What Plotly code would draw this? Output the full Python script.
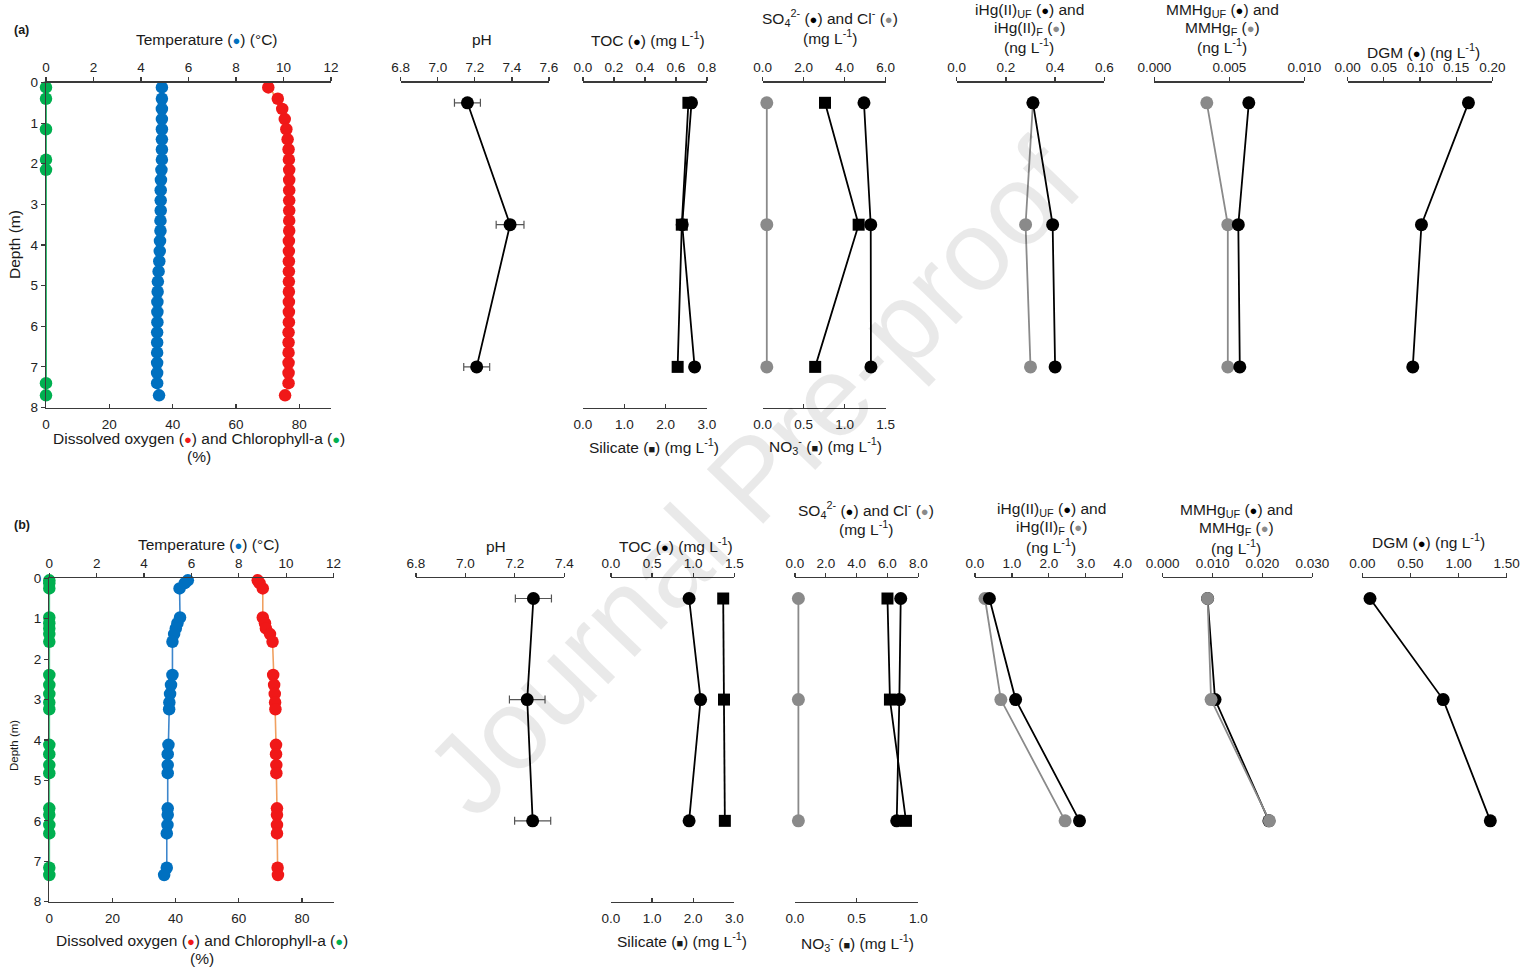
import plotly.graph_objects as go

W, H = 1530, 969
OFF = 0  # body margin is removed in the exported page


def fx(p):
    return (p - OFF) / W


def fy(p):
    return 1 - (p - OFF) / H


# ---------------- data ----------------
# (a) high-resolution profiles
depth_a = [0.12, 0.4, 0.65, 0.9, 1.15, 1.4, 1.65, 1.9, 2.15, 2.4, 2.65, 2.9, 3.15, 3.4, 3.65, 3.9,
           4.15, 4.4, 4.65, 4.9, 5.15, 5.4, 5.65, 5.9, 6.15, 6.4, 6.65, 6.9, 7.15, 7.4, 7.7]
temp_a = [4.88, 4.88, 4.88, 4.88, 4.88, 4.88, 4.88, 4.88, 4.86, 4.84, 4.83, 4.83, 4.83, 4.82, 4.82, 4.80,
          4.79, 4.77, 4.74, 4.71, 4.70, 4.69, 4.69, 4.69, 4.68, 4.68, 4.68, 4.68, 4.68, 4.68, 4.76]
do_a = [70.2, 73.2, 74.6, 75.4, 75.9, 76.3, 76.6, 76.7, 76.8, 76.8, 76.8, 76.8, 76.8, 76.8, 76.8, 76.7,
        76.7, 76.7, 76.7, 76.7, 76.7, 76.7, 76.7, 76.7, 76.6, 76.6, 76.6, 76.6, 76.6, 76.6, 75.5]
chl_depth_a = [0.12, 0.4, 1.15, 1.9, 2.15, 7.4, 7.7]
chl_a = [0.0, 0.0, 0.0, 0.0, 0.0, 0.0, 0.0]

# (b) high-resolution profiles
depth_b = [0.05, 0.12, 0.25, 0.97, 1.11, 1.24, 1.38, 1.57, 2.39, 2.64, 2.86, 3.07, 3.24,
           4.12, 4.35, 4.62, 4.82, 5.69, 5.85, 6.1, 6.31, 7.16, 7.34]
temp_b = [5.85, 5.72, 5.50, 5.52, 5.41, 5.34, 5.27, 5.20, 5.20, 5.14, 5.10, 5.07, 5.06,
          5.03, 5.00, 5.00, 5.00, 5.00, 5.00, 4.99, 4.96, 4.96, 4.85]
do_b = [66.0, 66.6, 67.6, 67.6, 68.3, 68.6, 69.9, 70.7, 70.9, 71.2, 71.4, 71.5, 71.6,
        71.8, 71.8, 71.9, 71.9, 72.1, 72.1, 72.1, 72.1, 72.3, 72.4]
chl_b = [0.0, 0.0, 0.0, 0.0, 0.0, 0.0, 0.0, 0.0, 0.0, 0.0, 0.0, 0.0, 0.0,
         0.0, 0.0, 0.0, 0.0, 0.0, 0.0, 0.0, 0.0, 0.0, 0.0]

# (a) discrete samples
samp_depth_a = [0.5, 3.5, 7.0]
ph_a = [7.16, 7.39, 7.21]
ph_err_a = [0.07, 0.075, 0.07]
toc_a = [0.70, 0.64, 0.72]
sil_a = [2.55, 2.39, 2.29]
so4_a = [4.94, 5.27, 5.28]
cl_a = [0.2, 0.2, 0.2]
no3_a = [0.76, 1.17, 0.64]
ihg_uf_a = [0.31, 0.39, 0.40]
ihg_f_a = [0.31, 0.28, 0.30]
mmhg_uf_a = [0.0063, 0.0056, 0.0057]
mmhg_f_a = [0.0035, 0.0049, 0.0049]
dgm_a = [0.167, 0.102, 0.090]

# (b) discrete samples
samp_depth_b = [0.5, 3.0, 6.0]
ph_b = [7.275, 7.25, 7.272]
ph_err_b = [0.073, 0.072, 0.073]
toc_b = [0.95, 1.09, 0.95]
sil_b = [2.73, 2.75, 2.77]
so4_b = [6.86, 6.77, 6.60]
cl_b = [0.22, 0.22, 0.22]
no3_b = [0.75, 0.77, 0.90]
ihg_uf_b = [0.39, 1.10, 2.83]
ihg_f_b = [0.27, 0.70, 2.44]
mmhg_uf_b = [0.0090, 0.0105, 0.0213]
mmhg_f_b = [0.0090, 0.0097, 0.0214]
dgm_b = [0.08, 0.84, 1.33]

# tick values / labels
depth_ticks = [0, 1, 2, 3, 4, 5, 6, 7, 8]
temp_ticks = [0, 2, 4, 6, 8, 10, 12]
do_ticks = [0, 20, 40, 60, 80]
ph_ticks_a = [6.8, 7.0, 7.2, 7.4, 7.6]
ph_labels_a = ["6.8", "7.0", "7.2", "7.4", "7.6"]
toc_ticks_a = [0.0, 0.2, 0.4, 0.6, 0.8]
toc_labels_a = ["0.0", "0.2", "0.4", "0.6", "0.8"]
sil_ticks = [0.0, 1.0, 2.0, 3.0]
sil_labels = ["0.0", "1.0", "2.0", "3.0"]
so4_ticks_a = [0.0, 2.0, 4.0, 6.0]
so4_labels_a = ["0.0", "2.0", "4.0", "6.0"]
no3_ticks_a = [0.0, 0.5, 1.0, 1.5]
no3_labels_a = ["0.0", "0.5", "1.0", "1.5"]
ihg_ticks_a = [0.0, 0.2, 0.4, 0.6]
ihg_labels_a = ["0.0", "0.2", "0.4", "0.6"]
mmhg_ticks_a = [0.0, 0.005, 0.010]
mmhg_labels_a = ["0.000", "0.005", "0.010"]
dgm_ticks_a = [0.0, 0.05, 0.10, 0.15, 0.20]
dgm_labels_a = ["0.00", "0.05", "0.10", "0.15", "0.20"]

ph_ticks_b = [6.8, 7.0, 7.2, 7.4]
ph_labels_b = ["6.8", "7.0", "7.2", "7.4"]
toc_ticks_b = [0.0, 0.5, 1.0, 1.5]
toc_labels_b = ["0.0", "0.5", "1.0", "1.5"]
so4_ticks_b = [0.0, 2.0, 4.0, 6.0, 8.0]
so4_labels_b = ["0.0", "2.0", "4.0", "6.0", "8.0"]
no3_ticks_b = [0.0, 0.5, 1.0]
no3_labels_b = ["0.0", "0.5", "1.0"]
ihg_ticks_b = [0.0, 1.0, 2.0, 3.0, 4.0]
ihg_labels_b = ["0.0", "1.0", "2.0", "3.0", "4.0"]
mmhg_ticks_b = [0.0, 0.010, 0.020, 0.030]
mmhg_labels_b = ["0.000", "0.010", "0.020", "0.030"]
dgm_ticks_b = [0.0, 0.5, 1.0, 1.5]
dgm_labels_b = ["0.00", "0.50", "1.00", "1.50"]

# ---------------- style ----------------
FONT = "Liberation Sans, Arial, sans-serif"
AX = "#3a3a3a"
TXT = "#1a1a1a"
BLUE = "#0070C0"
BLUE_LINE = "#3d86cc"
RED = "#F01818"
ORANGE = "#F0A060"
GREEN = "#00B050"
BLACK = "#000000"
GREY = "#8a8a8a"
TICKFONT = dict(family=FONT, size=13.5, color="#222222")

fig = go.Figure()
layout = dict(
    width=W, height=H, margin=dict(l=0, r=0, t=0, b=0, pad=0),
    paper_bgcolor="white", plot_bgcolor="rgba(0,0,0,0)", showlegend=False,
    font=dict(family=FONT, color=TXT),
)


def xaxis(dom, rng, tv, tt, side="top", anchor="y", overlaying=None):
    d = dict(domain=[fx(dom[0]), fx(dom[1])], range=rng, tickvals=tv, ticktext=tt,
             side=side, anchor=anchor, showline=True, linecolor=AX, linewidth=1.4,
             ticks="outside" if side == "top" else "inside", ticklen=4, tickwidth=1.2,
             tickcolor=AX, showgrid=False, zeroline=False, tickfont=TICKFONT,
             fixedrange=True, automargin=False)
    if side == "bottom":
        d["ticklabelstandoff"] = 4
    if overlaying:
        d["overlaying"] = overlaying
    return d


def yaxis(top, bottom, anchor, size=13.5):
    return dict(domain=[fy(bottom), fy(top)], range=[8, 0], tickvals=depth_ticks,
                ticktext=[str(v) for v in depth_ticks], anchor=anchor, side="left",
                showline=True, linecolor=AX, linewidth=1.4, ticks="outside", ticklen=4,
                tickwidth=1.2, tickcolor=AX, showgrid=False, zeroline=False,
                tickfont=dict(family=FONT, size=size, color="#222222"), fixedrange=True,
                automargin=False)


def line_trace(x, y, xa, ya, mcolor, lcolor, symbol="circle", size=13, lw=1.8, err=None):
    t = go.Scatter(x=x, y=y, xaxis=xa, yaxis=ya, mode="lines+markers",
                   line=dict(color=lcolor, width=lw),
                   marker=dict(color=mcolor, size=size, symbol=symbol, line=dict(width=0)),
                   cliponaxis=False, hoverinfo="skip")
    if err is not None:
        t.error_x = dict(type="data", array=err, visible=True, color="#555555",
                         thickness=1.2, width=4)
    return t


rows = [
    dict(tag="a", y="y", top=82.5, bottom=407.5,
         left=(46, 331), ph=(400.7, 549), toc=(583, 707), so4=(762.7, 885.7),
         ihg=(956.7, 1104.3), mm=(1154.3, 1304.3), dgm=(1347.7, 1492.3),
         depth=depth_a, temp=temp_a, do=do_a, chl_d=chl_depth_a, chl=chl_a,
         sd=samp_depth_a, ph_v=ph_a, ph_e=ph_err_a, toc_v=toc_a, sil_v=sil_a,
         so4_v=so4_a, cl_v=cl_a, no3_v=no3_a, iuf=ihg_uf_a, if_=ihg_f_a,
         muf=mmhg_uf_a, mf=mmhg_f_a, dgm_v=dgm_a,
         ph_r=[6.8, 7.6], ph_t=(ph_ticks_a, ph_labels_a),
         toc_r=[0, 0.8], toc_t=(toc_ticks_a, toc_labels_a),
         so4_r=[0, 6], so4_t=(so4_ticks_a, so4_labels_a),
         no3_r=[0, 1.5], no3_t=(no3_ticks_a, no3_labels_a),
         ihg_r=[0, 0.6], ihg_t=(ihg_ticks_a, ihg_labels_a),
         mm_r=[0, 0.010], mm_t=(mmhg_ticks_a, mmhg_labels_a),
         dgm_r=[0, 0.20], dgm_t=(dgm_ticks_a, dgm_labels_a),
         mm_grey_top=False),
    dict(tag="b", y="y2", top=578.3, bottom=901.7,
         left=(49.3, 333.5), ph=(416, 564.3), toc=(611, 734.3), so4=(795, 918.3),
         ihg=(975, 1122.7), mm=(1162.7, 1312.3), dgm=(1362.3, 1506.7),
         depth=depth_b, temp=temp_b, do=do_b, chl_d=depth_b, chl=chl_b,
         sd=samp_depth_b, ph_v=ph_b, ph_e=ph_err_b, toc_v=toc_b, sil_v=sil_b,
         so4_v=so4_b, cl_v=cl_b, no3_v=no3_b, iuf=ihg_uf_b, if_=ihg_f_b,
         muf=mmhg_uf_b, mf=mmhg_f_b, dgm_v=dgm_b,
         ph_r=[6.8, 7.4], ph_t=(ph_ticks_b, ph_labels_b),
         toc_r=[0, 1.5], toc_t=(toc_ticks_b, toc_labels_b),
         so4_r=[0, 8], so4_t=(so4_ticks_b, so4_labels_b),
         no3_r=[0, 1.0], no3_t=(no3_ticks_b, no3_labels_b),
         ihg_r=[0, 4.0], ihg_t=(ihg_ticks_b, ihg_labels_b),
         mm_r=[0, 0.030], mm_t=(mmhg_ticks_b, mmhg_labels_b),
         dgm_r=[0, 1.5], dgm_t=(dgm_ticks_b, dgm_labels_b),
         mm_grey_top=True),
]


def nm(x):
    return "xaxis" if x == "x" else "xaxis" + x[1:]


for i, r in enumerate(rows):
    base = i * 10
    ids = ["x" + ("" if base + k == 1 else str(base + k)) for k in range(1, 11)]
    xT, xDO, xPH, xTOC, xSIL, xSO4, xNO3, xIHG, xMM, xDGM = ids
    ya = r["y"]
    yname = "yaxis" if ya == "y" else "yaxis" + ya[1:]

    layout[yname] = yaxis(r["top"], r["bottom"], xT)
    layout[nm(xT)] = xaxis(r["left"], [0, 12], temp_ticks, [str(v) for v in temp_ticks], anchor=ya)
    layout[nm(xDO)] = xaxis(r["left"], [0, 90], do_ticks, [str(v) for v in do_ticks],
                            side="bottom", anchor=ya, overlaying=xT)
    layout[nm(xPH)] = xaxis(r["ph"], r["ph_r"], *r["ph_t"], anchor=ya)
    layout[nm(xTOC)] = xaxis(r["toc"], r["toc_r"], *r["toc_t"], anchor=ya)
    layout[nm(xSIL)] = xaxis(r["toc"], [0, 3], sil_ticks, sil_labels, side="bottom",
                             anchor=ya, overlaying=xTOC)
    layout[nm(xSO4)] = xaxis(r["so4"], r["so4_r"], *r["so4_t"], anchor=ya)
    layout[nm(xNO3)] = xaxis(r["so4"], r["no3_r"], *r["no3_t"], side="bottom",
                             anchor=ya, overlaying=xSO4)
    layout[nm(xIHG)] = xaxis(r["ihg"], r["ihg_r"], *r["ihg_t"], anchor=ya)
    layout[nm(xMM)] = xaxis(r["mm"], r["mm_r"], *r["mm_t"], anchor=ya)
    layout[nm(xDGM)] = xaxis(r["dgm"], r["dgm_r"], *r["dgm_t"], anchor=ya)

    # profile panel
    fig.add_trace(line_trace(r["chl"], r["chl_d"], xDO, ya, GREEN, GREEN, size=12.5, lw=1.6))
    fig.add_trace(line_trace(r["temp"], r["depth"], xT, ya, BLUE, BLUE_LINE, size=12.5, lw=1.6))
    fig.add_trace(line_trace(r["do"], r["depth"], xDO, ya, RED, ORANGE, size=12.5, lw=1.6))
    # pH
    fig.add_trace(line_trace(r["ph_v"], r["sd"], xPH, ya, BLACK, BLACK, err=r["ph_e"]))
    # TOC / silicate
    fig.add_trace(line_trace(r["toc_v"], r["sd"], xTOC, ya, BLACK, BLACK))
    fig.add_trace(line_trace(r["sil_v"], r["sd"], xSIL, ya, BLACK, BLACK, symbol="square", size=12))
    # SO4 / Cl / NO3
    fig.add_trace(line_trace(r["cl_v"], r["sd"], xSO4, ya, GREY, GREY))
    fig.add_trace(line_trace(r["so4_v"], r["sd"], xSO4, ya, BLACK, BLACK))
    fig.add_trace(line_trace(r["no3_v"], r["sd"], xNO3, ya, BLACK, BLACK, symbol="square", size=12))
    # iHg
    fig.add_trace(line_trace(r["if_"], r["sd"], xIHG, ya, GREY, GREY))
    fig.add_trace(line_trace(r["iuf"], r["sd"], xIHG, ya, BLACK, BLACK))
    # MMHg
    if r["mm_grey_top"]:
        fig.add_trace(line_trace(r["muf"], r["sd"], xMM, ya, BLACK, BLACK))
        fig.add_trace(line_trace(r["mf"], r["sd"], xMM, ya, GREY, GREY))
    else:
        fig.add_trace(line_trace(r["mf"], r["sd"], xMM, ya, GREY, GREY))
        fig.add_trace(line_trace(r["muf"], r["sd"], xMM, ya, BLACK, BLACK))
    # DGM
    fig.add_trace(line_trace(r["dgm_v"], r["sd"], xDGM, ya, BLACK, BLACK))


# ---------------- text ----------------
def dot(c):
    return '<span style="color:%s;font-size:13px">●</span>' % c


SQ = '<span style="font-size:11px">■</span>'
ML = "(mg L<sup>-1</sup>)"
NL = "(ng L<sup>-1</sup>)"

annots = []


def ann(text, x, y, size=15.5, angle=0, bold=False, color=TXT, xanchor="center"):
    annots.append(dict(text=("<b>%s</b>" % text) if bold else text, x=fx(x), y=fy(y),
                       xref="paper", yref="paper", showarrow=False, textangle=angle,
                       xanchor=xanchor, yanchor="middle",
                       font=dict(family=FONT, size=size, color=color)))


# watermark
ann("Journal Pre-proof", 752, 478, size=114, angle=-46, color="rgba(0,0,0,0.085)")

# (a)
ann("(a)", 21, 30, size=12.5, bold=True)
ann("Temperature (%s) (°C)" % dot(BLUE), 207, 39)
ann("Dissolved oxygen (%s) and Chlorophyll-a (%s)" % (dot(RED), dot(GREEN)), 199, 438)
ann("(%)", 199, 456)
ann("Depth (m)", 14, 245, size=15.5, angle=-90)
ann("pH", 482, 39)
ann("TOC (%s) %s" % (dot(BLACK), ML), 648, 39)
ann("Silicate (%s) %s" % (SQ, ML), 654, 446)
ann("SO<sub>4</sub><sup>2-</sup> (%s) and Cl<sup>-</sup> (%s)" % (dot(BLACK), dot(GREY)), 830, 18)
ann(ML, 830, 37)
ann("NO<sub>3</sub><sup>-</sup> (%s) %s" % (SQ, ML), 825, 446)
ann("iHg(II)<sub>UF</sub> (%s) and" % dot(BLACK), 1029, 10)
ann("iHg(II)<sub>F</sub> (%s)" % dot(GREY), 1029, 28)
ann(NL, 1029, 46)
ann("MMHg<sub>UF</sub> (%s) and" % dot(BLACK), 1222, 10)
ann("MMHg<sub>F</sub> (%s)" % dot(GREY), 1222, 28)
ann(NL, 1222, 46)
ann("DGM (%s) %s" % (dot(BLACK), NL), 1423, 51)

# (b)
ann("(b)", 22, 525, size=12.5, bold=True)
ann("Temperature (%s) (°C)" % dot(BLUE), 209, 544)
ann("Dissolved oxygen (%s) and Chlorophyll-a (%s)" % (dot(RED), dot(GREEN)), 202, 940)
ann("(%)", 202, 958)
ann("Depth (m)", 14, 746, size=11.5, angle=-90)
ann("pH", 496, 546)
ann("TOC (%s) %s" % (dot(BLACK), ML), 676, 545)
ann("Silicate (%s) %s" % (SQ, ML), 682, 940)
ann("SO<sub>4</sub><sup>2-</sup> (%s) and Cl<sup>-</sup> (%s)" % (dot(BLACK), dot(GREY)), 866, 510)
ann(ML, 866, 528)
ann("NO<sub>3</sub><sup>-</sup> (%s) %s" % (SQ, ML), 857, 943)
ann("iHg(II)<sub>UF</sub> (%s) and" % dot(BLACK), 1051, 509)
ann("iHg(II)<sub>F</sub> (%s)" % dot(GREY), 1051, 527)
ann(NL, 1051, 546)
ann("MMHg<sub>UF</sub> (%s) and" % dot(BLACK), 1236, 510)
ann("MMHg<sub>F</sub> (%s)" % dot(GREY), 1236, 528)
ann(NL, 1236, 547)
ann("DGM (%s) %s" % (dot(BLACK), NL), 1428, 541)

layout["annotations"] = annots
fig.update_layout(**layout)
fig.write_html(
    "out.html",
    config={"displayModeBar": False, "staticPlot": True},
    post_script="document.body.style.margin='0';document.body.style.overflow='hidden';",
)
